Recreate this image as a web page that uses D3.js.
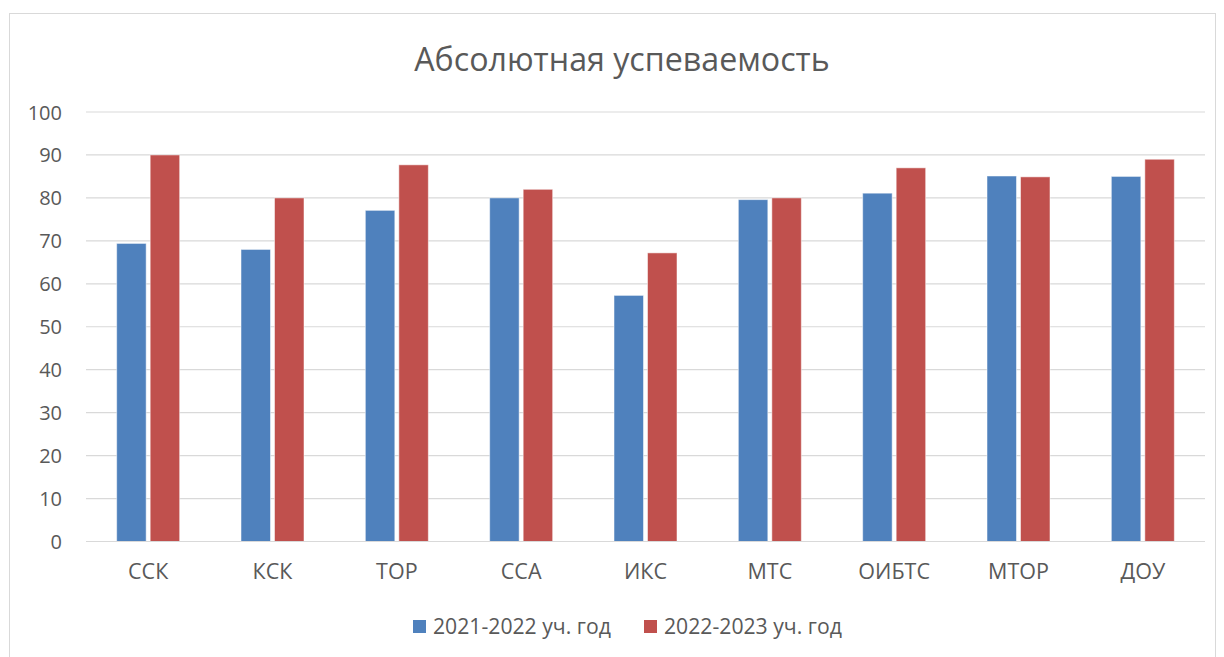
<!DOCTYPE html>
<html><head><meta charset="utf-8">
<script src="https://cdn.jsdelivr.net/npm/d3@7"></script>
<style>body{margin:0;background:#fff}svg{display:block}text{font-family:"Open Sans","Noto Sans",sans-serif;fill:#595959}</style>
</head><body>
<script>
const categories = ["ССК","КСК","ТОР","ССА","ИКС","МТС","ОИБТС","МТОР","ДОУ"];
const series2122 = [69.4,68,77.1,80,57.3,79.6,81.1,85.1,85];
const series2223 = [90,80,87.7,82,67.2,80,87,84.9,89];
const seriesNames = ["2021-2022 уч. год","2022-2023 уч. год"];
const yTicks = [0,10,20,30,40,50,60,70,80,90,100];
const colors = ["#4f81bd","#c0504d"];

const W=1224,H=657;
const svg=d3.select("body").append("svg").attr("width",W).attr("height",H);
svg.append("rect").attr("x",9.5).attr("y",13.5).attr("width",1206).attr("height",660).attr("fill","#fff").attr("stroke","#d9d9d9");

const x=d3.scaleBand().domain(categories).range([86,1205]);
const y=d3.scaleLinear().domain([0,100]).range([541.5,112]);
const FF='"Open Sans","Noto Sans",sans-serif';

svg.append("text").attr("x",622).attr("y",71).attr("text-anchor","middle").attr("font-size",32.2).text("Абсолютная успеваемость");

const grid=svg.append("g");
yTicks.forEach(t=>{
  grid.append("line").attr("x1",86).attr("x2",1205).attr("y1",y(t)).attr("y2",y(t)).attr("stroke","#d9d9d9").attr("stroke-width",1.2);
});
const yAxis=d3.axisLeft(y).tickValues(yTicks).tickSize(0).tickPadding(0);
const ya=svg.append("g").attr("transform","translate(62,0)").call(yAxis);
ya.select(".domain").remove();
ya.selectAll("text").attr("font-size",20).attr("fill","#595959").attr("dy","0.35em").style("font-family",FF);

const xAxis=d3.axisBottom(x).tickSize(0).tickPadding(0);
const xa=svg.append("g").attr("transform","translate(0,564)").call(xAxis);
xa.select(".domain").remove();
xa.selectAll("text").attr("font-size",21.5).attr("fill","#595959").attr("dy","0.7em").style("font-family",FF);

const inner=d3.scaleBand().domain([0,1]).range([0,63]).paddingInner(0.12);
const data=[series2122,series2223];
data.forEach((s,si)=>{
  svg.append("g").selectAll("rect").data(s).join("rect")
    .attr("x",(d,i)=>x(categories[i])+x.bandwidth()/2-31.5+inner(si))
    .attr("y",d=>y(d)).attr("width",inner.bandwidth()).attr("height",d=>y(0)-y(d))
    .attr("fill",colors[si]).attr("stroke","#fff").attr("stroke-opacity",0.5).attr("stroke-width",1);
});
svg.append("line").attr("x1",86).attr("x2",1205).attr("y1",y(0)).attr("y2",y(0)).attr("stroke","#d9d9d9").attr("stroke-width",1.2);

const leg=svg.append("g");
const legX=[413,644];
seriesNames.forEach((n,i)=>{
  leg.append("rect").attr("x",legX[i]).attr("y",620).attr("width",13).attr("height",13).attr("fill",colors[i]);
  leg.append("text").attr("x",legX[i]+20).attr("y",627).attr("dy","0.35em").attr("font-size",21.2).text(n);
});
</script>
</body></html>
